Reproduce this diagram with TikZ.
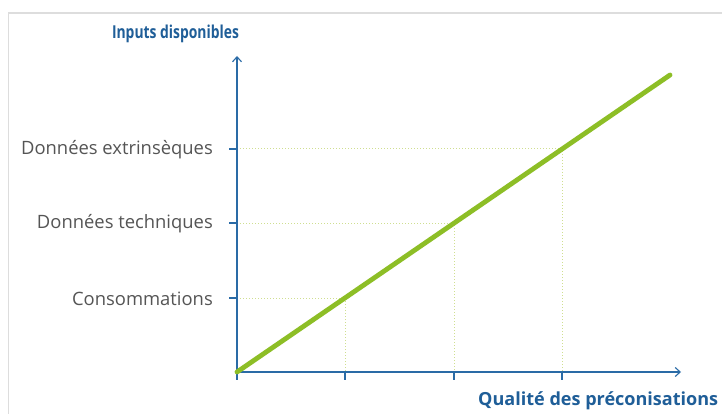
\documentclass[tikz,border=0pt]{standalone}
\usepackage{fontspec}
\setmainfont{Open Sans}
\usetikzlibrary{arrows.meta}
\definecolor{axisblue}{HTML}{2A6BA6}
\definecolor{titleblue}{HTML}{1F5E98}
\definecolor{labgrey}{HTML}{555555}
\definecolor{linegreen}{HTML}{8DBE26}
\definecolor{guidegreen}{HTML}{CFDF90}
\definecolor{framegrey}{HTML}{DDDDDD}
\begin{document}
\begin{tikzpicture}[x=1pt,y=-1pt,
  axis/.style={draw=axisblue,line width=1.1pt,-{Straight Barb[length=5pt,width=9pt,line width=1.1pt]}},
  tick/.style={draw=axisblue,line width=1.1pt},
  guide/.style={draw=guidegreen,line width=1pt,dotted},
  ylab/.style={anchor=east,text=labgrey,font=\fontsize{18.4}{20}\selectfont,inner sep=0pt},
  axtitle/.style={text=titleblue,font=\bfseries\fontsize{17.8}{20}\selectfont,inner sep=0pt},
  trend/.style={draw=linegreen,line width=4.8pt,line cap=round}]
\useasboundingbox (0,0) rectangle (722,414);
\fill[white] (0,0) rectangle (722,414);
% frame
\draw[framegrey,line width=1.5pt] (8.5,420) -- (8.5,13) -- (730,13);
% coordinates
\coordinate (O) at (237,372);
\coordinate (ytop) at (237,56);
\coordinate (xend) at (681,372);
\coordinate (x1) at (345,372);
\coordinate (x2) at (454,372);
\coordinate (x3) at (562,372);
\coordinate (y1) at (237,298);
\coordinate (y2) at (237,223);
\coordinate (y3) at (237,149);
\coordinate (p1) at (345,298);
\coordinate (p2) at (454,223);
\coordinate (p3) at (562,149);
\coordinate (pend) at (670,75);
% guides
\draw[guide] (y1) -- (p1) -- (x1);
\draw[guide] (y2) -- (p2) -- (x2);
\draw[guide] (y3) -- (p3) -- (x3);
% ticks
\foreach \c in {y1,y2,y3} \draw[tick] (\c) -- ++(-8,0);
\foreach \c in {O,x1,x2,x3} \draw[tick] (\c) -- ++(0,8);
% axes
\draw[axis] (O) -- (ytop);
\draw[axis] (O) -- (xend);
% trend
\draw[trend] (O) -- (pend);
% labels
\node[ylab] (l3) at (213,149.5) {Données extrinsèques};
\node[ylab] (l2) at (213,223.5) {Données techniques};
\node[ylab] (l1) at (213,298.5) {Consommations};
\node[axtitle,xscale=0.78] (ty) at (175.5,33.5) {Inputs disponibles};
\node[axtitle,anchor=west] (tx) at (478,401) {\resizebox{240pt}{!}{Qualité des préconisations}};
\end{tikzpicture}
\end{document}
